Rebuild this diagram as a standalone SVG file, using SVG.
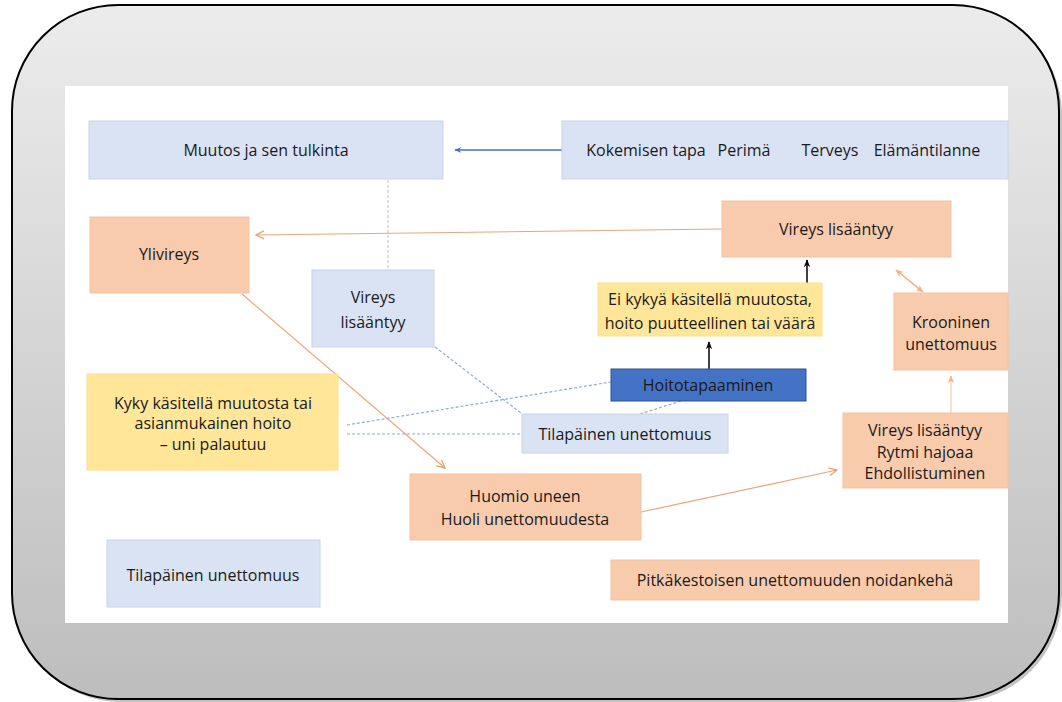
<svg xmlns="http://www.w3.org/2000/svg" width="1062" height="702" viewBox="0 0 1062 702">
<defs>
<linearGradient id="bg" x1="0" y1="0" x2="0" y2="1">
<stop offset="0" stop-color="#ececec"/>
<stop offset="1" stop-color="#bdbdbd"/>
</linearGradient>
<marker id="ab" viewBox="0 0 10 10" refX="9" refY="5" markerWidth="7" markerHeight="7" orient="auto-start-reverse" markerUnits="userSpaceOnUse"><path d="M0,1 L10,5 L0,9 L3,5 Z" fill="#4472c4"/></marker>
<marker id="ak" viewBox="0 0 10 10" refX="9" refY="5" markerWidth="8" markerHeight="8" orient="auto-start-reverse" markerUnits="userSpaceOnUse"><path d="M0,1 L10,5 L0,9 L3,5 Z" fill="#000"/></marker>
<marker id="ao" viewBox="0 0 10 10" refX="9" refY="5" markerWidth="10" markerHeight="10" orient="auto-start-reverse" markerUnits="userSpaceOnUse"><path d="M1,1 L9,5 L1,9" fill="none" stroke="#eaa070" stroke-width="1.3"/></marker>
<marker id="ao2" viewBox="0 0 10 10" refX="9" refY="5" markerWidth="8" markerHeight="8" orient="auto-start-reverse" markerUnits="userSpaceOnUse"><path d="M0,1 L10,5 L0,9 L3,5 Z" fill="#f4b183"/></marker>
</defs>
<style>
text{font-family:"Open Sans","Liberation Sans",sans-serif;font-size:16px;fill:#1a1a1a;text-anchor:middle;dominant-baseline:central}
.b{fill:#dae3f3;stroke:#c8d4ea;stroke-width:1}
.o{fill:#f8cbad;stroke:#f4c2a0;stroke-width:1}
.y{fill:#ffe699;stroke:#ffe08a;stroke-width:1}
.d{fill:#4472c4;stroke:#2f528f;stroke-width:1}
.dash{fill:none;stroke:#8faad6;stroke-width:1.2;stroke-dasharray:3 2}
.oc{fill:none;stroke:#eaa676;stroke-width:1.2}
</style>
<rect x="15" y="8" width="1047" height="694" rx="106" fill="#888" opacity="0.5"/>
<rect x="12" y="5" width="1047" height="694" rx="106" fill="url(#bg)" stroke="#000" stroke-width="2"/>
<rect x="65" y="86" width="943" height="537" fill="#fff"/>
<g id="connectors">
<line x1="562" y1="150" x2="455" y2="150" stroke="#4472c4" stroke-width="1.3" marker-end="url(#ab)"/>
<line x1="388" y1="180" x2="388" y2="270" stroke="#c8c8c8" stroke-width="1.2" stroke-dasharray="3 2"/>
<line x1="722" y1="229" x2="256" y2="235" class="oc" marker-end="url(#ao)"/>
<line x1="242" y1="294" x2="445" y2="468" class="oc" marker-end="url(#ao)"/>
<line x1="641" y1="512" x2="837" y2="470" class="oc" stroke="#f4b183" marker-end="url(#ao)"/>
<line x1="951" y1="413" x2="951" y2="376" stroke="#f8cbad" stroke-width="1.2" marker-end="url(#ao2)"/>
<line x1="896" y1="270" x2="923" y2="292" stroke="#eaa676" stroke-width="1.2" marker-start="url(#ao2)" marker-end="url(#ao2)"/>
<line x1="807" y1="283" x2="807" y2="260" stroke="#000" stroke-width="1.5" marker-end="url(#ak)"/>
<line x1="709" y1="369" x2="709" y2="342" stroke="#000" stroke-width="1.5" marker-end="url(#ak)"/>
<line x1="435" y1="347" x2="521" y2="413" class="dash"/>
<line x1="347" y1="425" x2="611" y2="382" class="dash"/>
<line x1="347" y1="434" x2="522" y2="434" class="dash"/>
<line x1="640" y1="414" x2="681" y2="401" class="dash"/>
</g>
<g id="muutos"><rect class="b" x="89" y="121" width="354" height="58"/><text x="266" y="150">Muutos ja sen tulkinta</text></g>
<g id="tekijat"><rect class="b" x="562" y="121" width="446" height="58"/>
<text x="646" y="150">Kokemisen tapa</text><text x="744" y="150">Perimä</text><text x="830" y="150">Terveys</text><text x="927" y="150">Elämäntilanne</text></g>
<g id="ylivireys"><rect class="o" x="90" y="217" width="159" height="76"/><text x="169" y="254">Ylivireys</text></g>
<g id="vireys-top"><rect class="o" x="722" y="201" width="229" height="56"/><text x="836" y="229">Vireys lisääntyy</text></g>
<g id="vireys-blue"><rect class="b" x="312" y="270" width="122" height="77"/><text x="373" y="297">Vireys</text><text x="373" y="322">lisääntyy</text></g>
<g id="ei-kykya"><rect class="y" x="598" y="283" width="224" height="53"/><text x="710" y="299">Ei kykyä käsitellä muutosta,</text><text x="710" y="323">hoito puutteellinen tai väärä</text></g>
<g id="hoitotapaaminen"><rect class="d" x="611" y="369" width="195" height="32"/><text x="708" y="385">Hoitotapaaminen</text></g>
<g id="kyky"><rect class="y" x="87" y="374" width="251" height="96"/><text x="213" y="403">Kyky käsitellä muutosta tai</text><text x="213" y="423">asianmukainen hoito</text><text x="213" y="444">– uni palautuu</text></g>
<g id="tilapainen-mid"><rect class="b" x="522" y="414" width="206" height="39"/><text x="625" y="434">Tilapäinen unettomuus</text></g>
<g id="huomio"><rect class="o" x="410" y="474" width="231" height="66"/><text x="525" y="496">Huomio uneen</text><text x="525" y="519">Huoli unettomuudesta</text></g>
<g id="vireys-rytmi"><rect class="o" x="843" y="413" width="165" height="75"/><text x="925" y="430">Vireys lisääntyy</text><text x="925" y="452">Rytmi hajoaa</text><text x="925" y="473">Ehdollistuminen</text></g>
<g id="krooninen"><rect class="o" x="894" y="293" width="114" height="77"/><text x="951" y="322">Krooninen</text><text x="951" y="344">unettomuus</text></g>
<g id="tilapainen-legend"><rect class="b" x="107" y="540" width="213" height="67"/><text x="213" y="575">Tilapäinen unettomuus</text></g>
<g id="noidankeha"><rect class="o" x="611" y="560" width="368" height="40"/><text x="795" y="580">Pitkäkestoisen unettomuuden noidankehä</text></g>
</svg>
